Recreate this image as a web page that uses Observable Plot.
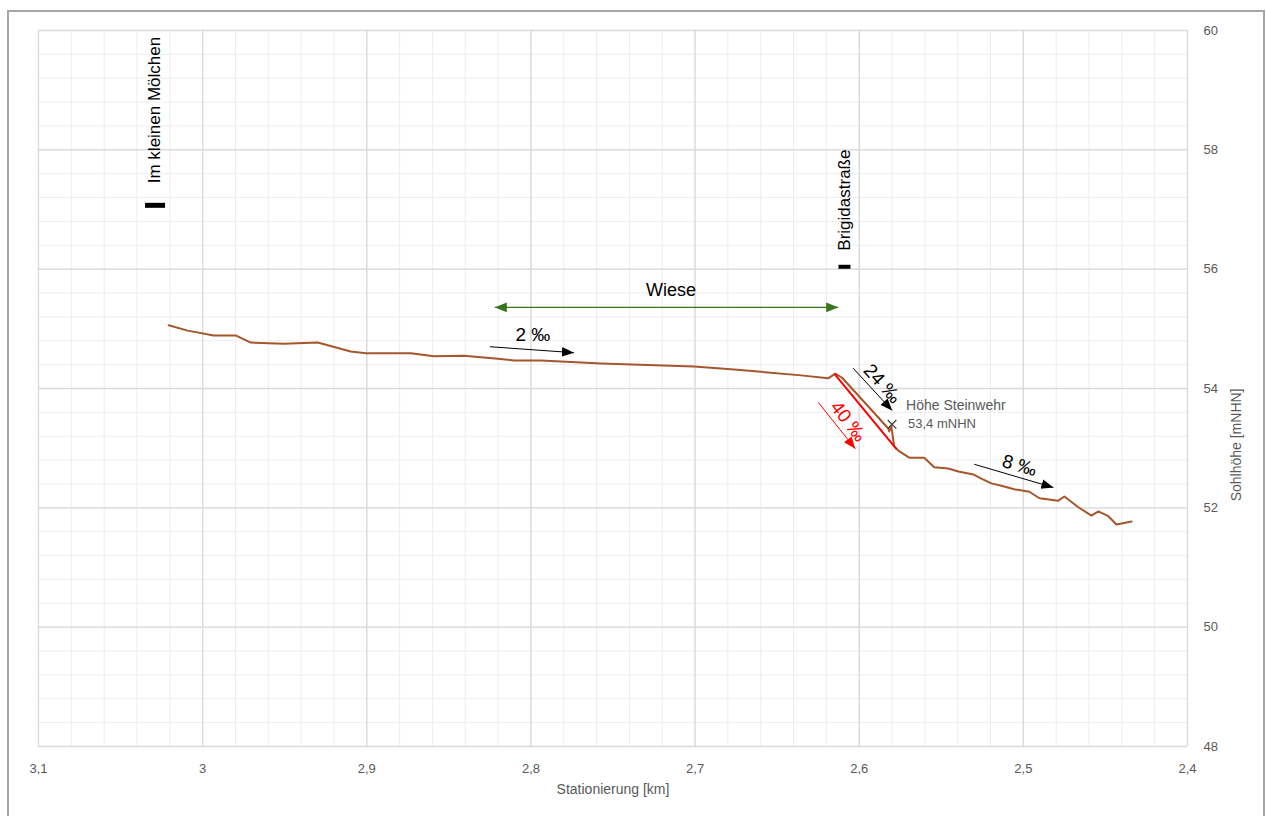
<!DOCTYPE html>
<html>
<head>
<meta charset="utf-8">
<script src="https://cdn.jsdelivr.net/npm/d3@7"></script>
<script src="https://cdn.jsdelivr.net/npm/@observablehq/plot@0.6"></script>
<style>
  html, body { margin: 0; padding: 0; background: #fff; }
  #wrap { position: relative; width: 1266px; height: 816px; overflow: hidden; }
  #border { position: absolute; left: 7px; top: 10px; width: 1254px; height: 900px; border: 2px solid #a6a6a6; pointer-events: none; }
</style>
</head>
<body>
<div id="wrap"><div id="border"></div></div>
<script>
// ---- Data ----
const stationKm = [3.0207, 3.0091, 2.9933, 2.9799, 2.9707, 2.9506, 2.9299, 2.9098, 2.9006, 2.8732,
  2.8591, 2.8409, 2.8201, 2.8104, 2.7939, 2.7573, 2.7006, 2.6762, 2.6354, 2.6189,
  2.6146, 2.6104, 2.5823, 2.5817, 2.5805, 2.5787, 2.5762, 2.5695, 2.5604, 2.5543,
  2.5457, 2.5396, 2.5305, 2.5256, 2.5195, 2.5134, 2.5055, 2.4963, 2.4902, 2.4787,
  2.4750, 2.4665, 2.4585, 2.4543, 2.4482, 2.4433, 2.4341];
const sohlhoehe = [55.06, 54.97, 54.89, 54.89, 54.77, 54.75, 54.77, 54.62, 54.59, 54.59,
  54.54, 54.55, 54.50, 54.47, 54.47, 54.42, 54.37, 54.32, 54.22, 54.17,
  54.25, 54.18, 53.33, 53.28, 53.38, 53.03, 52.96, 52.84, 52.84, 52.68,
  52.66, 52.61, 52.56, 52.49, 52.41, 52.37, 52.31, 52.27, 52.16, 52.12,
  52.19, 52.01, 51.87, 51.94, 51.86, 51.72, 51.77];
const gefaelle40Km = [2.6146, 2.5774];
const gefaelle40Y = [54.23, 52.99];

const xTicks = [3.1, 3.0, 2.9, 2.8, 2.7, 2.6, 2.5, 2.4];
const xTickLabels = ["3,1", "3", "2,9", "2,8", "2,7", "2,6", "2,5", "2,4"];
const yTicks = [48, 50, 52, 54, 56, 58, 60];
const yTickLabels = ["48", "50", "52", "54", "56", "58", "60"];

const streets = [
  {name: "Im kleinen Mölchen", x: 3.0290, y: 57.07, ty: 57.44, w: 20, h: 5},
  {name: "Brigidastraße", x: 2.6090, y: 56.04, ty: 56.31, w: 12, h: 4}
];
const weir = {x: 2.58, y: 53.4, label: "Höhe Steinwehr", value: "53,4 mNHN"};

const slopeArrows = [
  {x1: 2.8250, y1: 54.70, x2: 2.7738, y2: 54.60, color: "#000000"},
  {x1: 2.6037, y1: 54.34, x2: 2.5799, y2: 53.63, color: "#000000"},
  {x1: 2.6250, y1: 53.77, x2: 2.6024, y2: 52.99, color: "#ff0000"},
  {x1: 2.5299, y1: 52.73, x2: 2.4817, y2: 52.34, color: "#000000"}
];
const slopeLabels = [
  {text: "2 ‰", x: 2.7988, y: 54.89, rotate: 0, color: "#000000"},
  {text: "24 ‰", x: 2.5860, y: 54.08, rotate: 48, color: "#000000"},
  {text: "40 ‰", x: 2.6067, y: 53.45, rotate: 52, color: "#ff0000"},
  {text: "8 ‰", x: 2.5024, y: 52.71, rotate: 16, color: "#000000"}
];
const wiese = {text: "Wiese", x: 2.7146, y: 55.64, x1: 2.8220, x2: 2.6128, ya: 55.36};

// ---- Build ----
const line = stationKm.map((x, i) => ({x, y: sohlhoehe[i]}));
const red = gefaelle40Km.map((x, i) => ({x, y: gefaelle40Y[i]}));
const minorX = d3.range(0, 36).map(i => +(2.4 + i * 0.02).toFixed(3));
const minorY = d3.range(0, 31).map(i => +(48 + i * 0.4).toFixed(2));
const dash = (w, h) => ({draw(ctx) { ctx.moveTo(-w/2, -h/2); ctx.lineTo(w/2, -h/2); ctx.lineTo(w/2, h/2); ctx.lineTo(-w/2, h/2); ctx.closePath(); }});
const font = "Liberation Sans, Arial, sans-serif";

const chart = Plot.plot({
  width: 1266, height: 816,
  marginLeft: 38, marginRight: 79, marginTop: 30, marginBottom: 70,
  x: {domain: [3.1, 2.4], axis: null},
  y: {domain: [48, 60], axis: null},
  style: {fontFamily: font, background: "transparent", overflow: "visible"},
  marks: [
    Plot.ruleX(minorX, {stroke: "#eeeeee", strokeWidth: 1}),
    Plot.ruleY(minorY, {stroke: "#eeeeee", strokeWidth: 1}),
    Plot.ruleX(xTicks, {stroke: "#d9d9d9", strokeWidth: 1.3}),
    Plot.ruleY(yTicks, {stroke: "#d9d9d9", strokeWidth: 1.3}),
    Plot.text(xTicks, {x: d => d, y: 48, dy: 22, text: (d, i) => xTickLabels[i], fill: "#595959", fontSize: 13}),
    Plot.text(yTicks, {x: 2.4, y: d => d, dx: 16, text: (d, i) => yTickLabels[i], textAnchor: "start", fill: "#595959", fontSize: 13}),
    Plot.text(["Stationierung [km]"], {frameAnchor: "bottom", dy: 47, fill: "#595959", fontSize: 14}),
    Plot.text(["Sohlhöhe [mNHN]"], {frameAnchor: "right", dx: 49, rotate: -90, fill: "#595959", fontSize: 14}),
    // street labels & markers
    Plot.text(streets, {x: "x", y: "ty", text: "name", rotate: -90, textAnchor: "start", fill: "#000", fontSize: 17}),
    Plot.dot([streets[0]], {x: "x", y: "y", symbol: dash(streets[0].w, streets[0].h), fill: "#000", stroke: "none"}),
    Plot.dot([streets[1]], {x: "x", y: "y", symbol: dash(streets[1].w, streets[1].h), fill: "#000", stroke: "none"}),
    // Wiese
    Plot.link([wiese], {x1: "x1", x2: "x2", y1: "ya", y2: "ya", stroke: "#38761d", strokeWidth: 1.2, markerStart: "arrow", markerEnd: "arrow"}),
    Plot.text([wiese], {x: "x", y: "y", text: "text", fill: "#000", fontSize: 18}),
    // profile
    Plot.line(line, {x: "x", y: "y", stroke: "#a5572b", strokeWidth: 2}),
    Plot.line(red, {x: "x", y: "y", stroke: "#ff0000", strokeWidth: 2}),
    // slope arrows
    Plot.link(slopeArrows, {x1: "x1", y1: "y1", x2: "x2", y2: "y2", stroke: "color", strokeWidth: 1, markerEnd: "arrow"}),
    Plot.text(slopeLabels, {x: "x", y: "y", text: "text", rotate: d => d.rotate, fill: "color", fontSize: 19}),
    // weir
    Plot.dot([weir], {x: "x", y: "y", symbol: "times", r: 4, stroke: "#404040", strokeWidth: 1.3}),
    Plot.text([weir], {x: "x", y: "y", text: "label", dx: 14, dy: -19, textAnchor: "start", fill: "#595959", fontSize: 14}),
    Plot.text([weir], {x: "x", y: "y", text: "value", dx: 16, dy: 0, textAnchor: "start", fill: "#595959", fontSize: 13})
  ]
});

// filled triangular arrowheads
chart.querySelectorAll("marker").forEach(m => {
  const c = m.getAttribute("stroke") || "#000";
  m.setAttribute("viewBox", "-10 -5 10 10");
  m.setAttribute("markerUnits", "userSpaceOnUse");
  m.setAttribute("markerWidth", 12);
  m.setAttribute("markerHeight", 12);
  m.setAttribute("orient", "auto-start-reverse");
  m.setAttribute("fill", c);
  m.setAttribute("stroke", "none");
  m.innerHTML = "";
  const p = document.createElementNS("http://www.w3.org/2000/svg", "path");
  p.setAttribute("d", "M-10,-4L0,0L-10,4Z");
  m.appendChild(p);
});

document.getElementById("wrap").prepend(chart);
</script>
</body>
</html>
